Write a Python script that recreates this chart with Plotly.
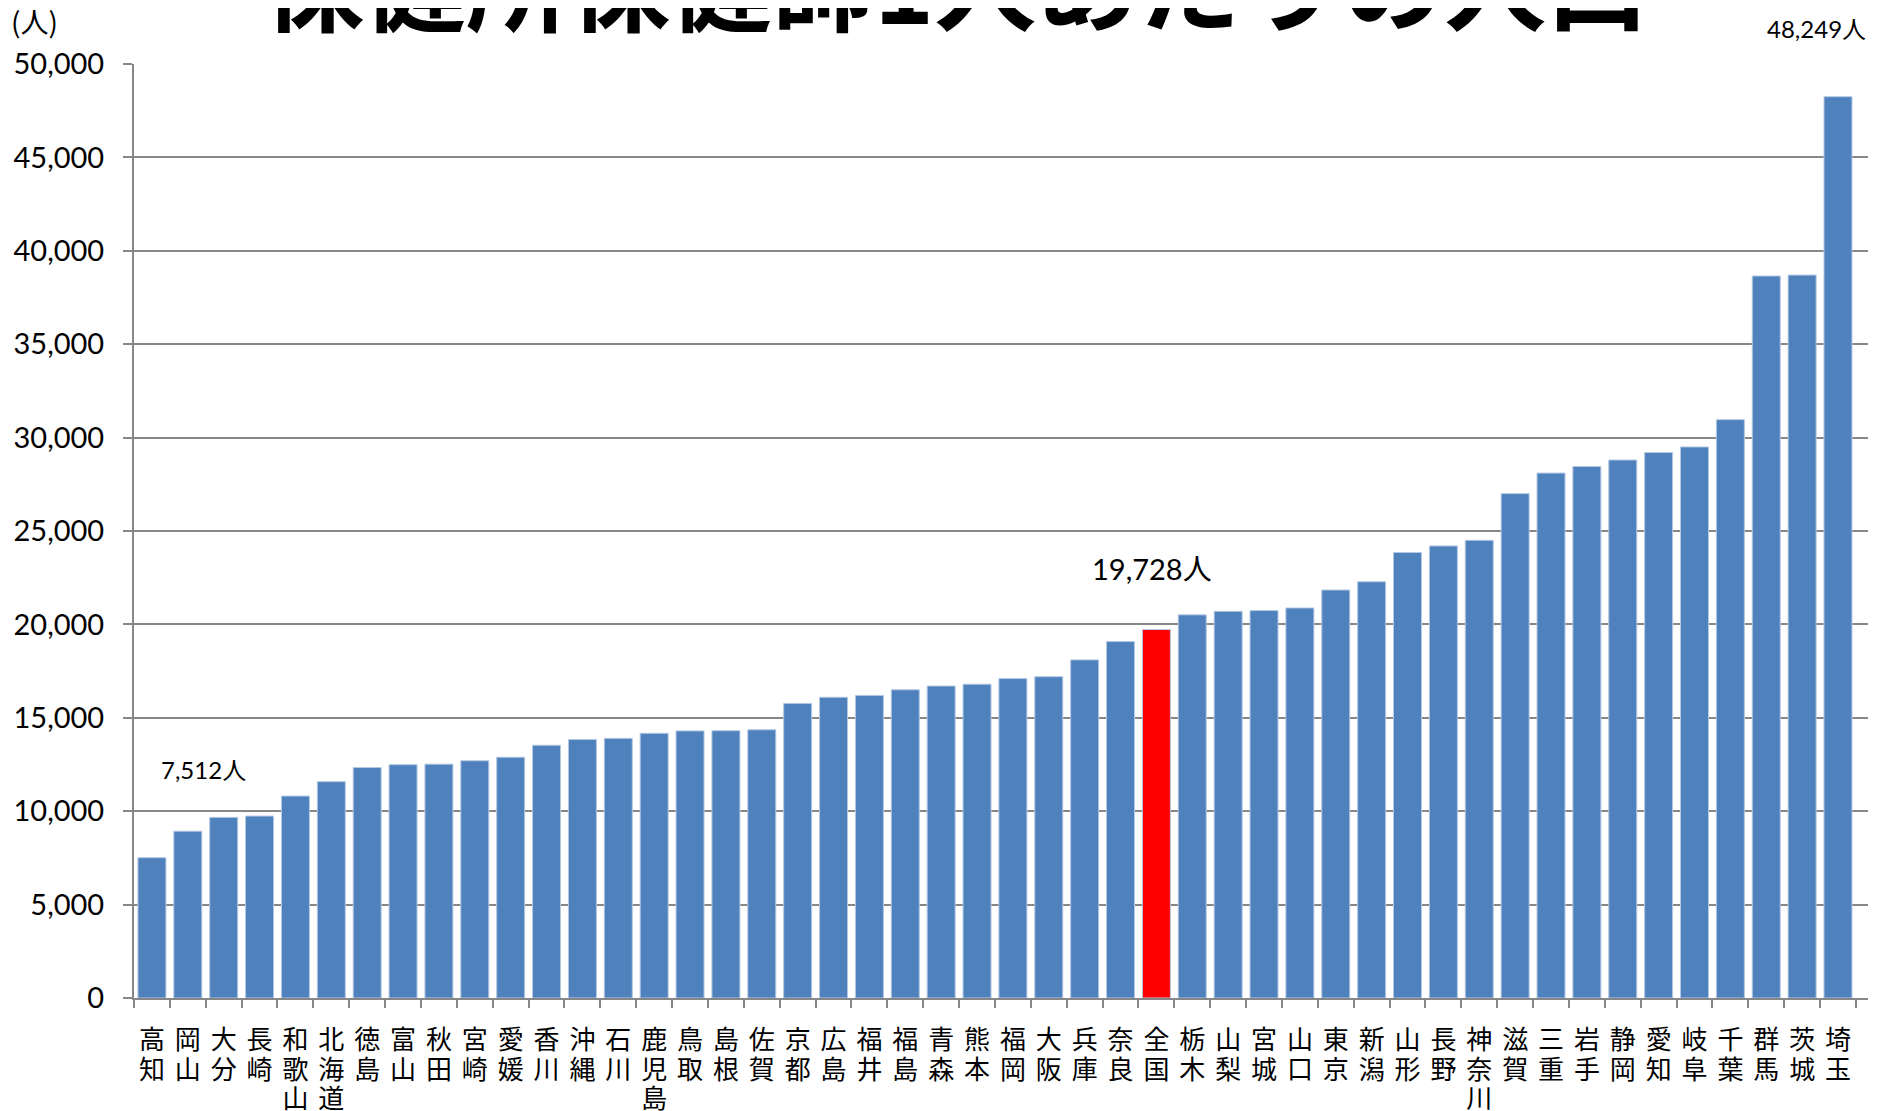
import plotly.graph_objects as go

prefectures = ["高知", "岡山", "大分", "長崎", "和歌山", "北海道", "徳島", "富山", "秋田", "宮崎",
               "愛媛", "香川", "沖縄", "石川", "鹿児島", "鳥取", "島根", "佐賀", "京都", "広島",
               "福井", "福島", "青森", "熊本", "福岡", "大阪", "兵庫", "奈良", "全国", "栃木",
               "山梨", "宮城", "山口", "東京", "新潟", "山形", "長野", "神奈川", "滋賀", "三重",
               "岩手", "静岡", "愛知", "岐阜", "千葉", "群馬", "茨城", "埼玉"]
population_per_nurse = [7512, 8930, 9670, 9740, 10810, 11580, 12340, 12490, 12520, 12700,
                        12890, 13530, 13840, 13900, 14170, 14300, 14310, 14360, 15770, 16100,
                        16200, 16500, 16700, 16800, 17100, 17200, 18100, 19080, 19728, 20510,
                        20700, 20740, 20880, 21840, 22280, 23850, 24200, 24500, 27000, 28100,
                        28450, 28800, 29200, 29500, 30960, 38650, 38700, 48249]
y_ticks = [0, 5000, 10000, 15000, 20000, 25000, 30000, 35000, 40000, 45000, 50000]
highlight = "全国"
title_text = "保健所保健師1人あたりの人口"
unit_text = "(人)"

# vertical labels: one character per line, glyphs slightly larger than line pitch font
tick_labels = ["<br>".join(f"<span style='font-size:26px'>{c}</span>" for c in p) for p in prefectures]
colors = ["#FF0000" if p == highlight else "#4F81BD" for p in prefectures]

fig = go.Figure(go.Bar(
    x=prefectures, y=population_per_nurse,
    marker=dict(color=colors, line=dict(color="#B3C8E3", width=1)),
))

hi = prefectures.index(highlight)
fig.add_annotation(x=prefectures[0], y=population_per_nurse[0], text=f"{population_per_nurse[0]:,}人",
                   showarrow=False, xanchor="left", yanchor="bottom", xshift=7, yshift=72,
                   font=dict(size=24, family="Lato, Noto Sans CJK JP", color="black"))
fig.add_annotation(x=prefectures[hi], y=population_per_nurse[hi], text=f"{population_per_nurse[hi]:,}人",
                   showarrow=False, xanchor="center", yanchor="bottom", xshift=-4, yshift=41,
                   font=dict(size=29, family="Lato, Noto Sans CJK JP", color="black"))
fig.add_annotation(x=prefectures[-1], y=population_per_nurse[-1], text=f"{population_per_nurse[-1]:,}人",
                   showarrow=False, xanchor="right", yanchor="bottom", xshift=30, yshift=52,
                   font=dict(size=24, family="Lato, Noto Sans CJK JP", color="black"))

fig.add_annotation(xref="paper", yref="paper", x=0.4735, y=1, text=title_text,
                   showarrow=False, xanchor="center", yanchor="bottom", yshift=9,
                   font=dict(size=102, family="Noto Sans CJK JP", color="black", weight="bold"))
fig.add_annotation(xref="paper", yref="paper", x=-0.0722, y=1, text=unit_text,
                   showarrow=False, xanchor="left", yanchor="bottom", yshift=21,
                   font=dict(size=28, family="Noto Sans CJK JP", color="black"))

# page body has an 8px margin, so the figure is offset by 8px right/down
fig.update_layout(
    width=1872, height=1103,
    margin=dict(l=126, r=12, t=56, b=113, autoexpand=False),
    paper_bgcolor="white", plot_bgcolor="white",
    bargap=0.22,
    showlegend=False,
    font=dict(family="Lato, Noto Sans CJK JP", color="black"),
)
fig.update_xaxes(
    type="category", tickvals=prefectures, ticktext=tick_labels,
    showline=True, linecolor="#878787", linewidth=2,
    ticks="outside", tickson="boundaries", ticklen=8, tickcolor="#878787", tickwidth=1.5,
    tickfont=dict(size=23, family="Noto Sans CJK JP", color="black"),
    tickangle=0, showgrid=False, automargin=False, ticklabelstandoff=21,
)
fig.update_yaxes(
    range=[0, 50000], tickvals=y_ticks, tickformat=",",
    showline=True, linecolor="#878787", linewidth=2,
    ticks="outside", ticklen=9, tickcolor="#878787", tickwidth=1.5,
    showgrid=True, gridcolor="#878787", gridwidth=1.5,
    zeroline=False, automargin=False,
    tickfont=dict(size=29, family="Lato", color="black"),
    ticklabelstandoff=13,
)

fig.write_html("out.html")
